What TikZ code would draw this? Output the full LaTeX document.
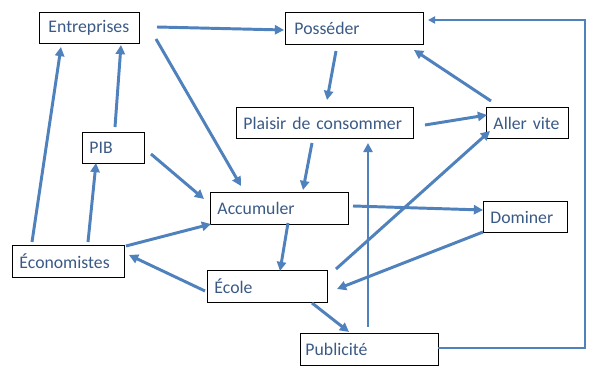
\documentclass[tikz,border=0pt]{standalone}
\usepackage{fontspec}
\setmainfont{Carlito}
\usetikzlibrary{arrows.meta}
\definecolor{arrblue}{HTML}{4F81BD}
\definecolor{txtblue}{HTML}{3A5A86}
\tikzset{
  box/.style={draw=black, line width=0.7pt, anchor=north west, inner xsep=0pt, inner ysep=0pt,
    text=txtblue, font=\fontsize{12.6}{14}\selectfont, align=left},
  arr/.style={draw=arrblue, line width=2.1pt, -{Triangle[length=6.5pt,width=6.5pt]}},
  thinarr/.style={draw=arrblue, line width=1.6pt, -{Triangle[length=5pt,width=5pt]}}
}
\begin{document}
\begin{tikzpicture}[x=0.025cm,y=-0.025cm]
\useasboundingbox[fill=white] (0,0) rectangle (600,372);
\node[box, minimum width=2.5cm, minimum height=0.775cm, text width=2.5cm] (ent) at (39,12) {\hspace*{0.225cm}Entreprises};
\node[box, minimum width=3.45cm, minimum height=0.8cm, text width=3.45cm] (pos) at (285,12) {\hspace*{0.225cm}Posséder};
\node[box, minimum width=4.425cm, minimum height=0.775cm, text width=4.425cm] (pla) at (236,107) {\hspace*{0.175cm}Plaisir de consommer};
\node[box, minimum width=2.05cm, minimum height=0.775cm, text width=2.05cm] (all) at (486,107) {\hspace*{0.175cm}Aller vite};
\node[box, minimum width=1.55cm, minimum height=0.775cm, text width=1.55cm] (pib) at (82,132) {\hspace*{0.175cm}PIB};
\node[box, minimum width=3.45cm, minimum height=0.8cm, text width=3.45cm] (acc) at (210,192) {\hspace*{0.175cm}Accumuler};
\node[box, minimum width=2.1cm, minimum height=0.775cm, text width=2.1cm] (dom) at (483,201) {\hspace*{0.175cm}Dominer};
\node[box, minimum width=2.8cm, minimum height=0.8cm, text width=2.8cm] (eco) at (12,245) {\hspace*{0.175cm}Économistes};
\node[box, minimum width=3.0cm, minimum height=0.8cm, text width=3.0cm] (ecl) at (207,270) {\hspace*{0.175cm}École};
\node[box, minimum width=3.45cm, minimum height=0.8cm, text width=3.45cm] (pub) at (300,333) {\hspace*{0.125cm}Publicité};
% arrows
\draw[arr] ([shift={(118,15)}]ent.north west) -- ([shift={(-1,18)}]pos.north west);
\draw[arr] ([shift={(117,27)}]ent.north west) -- ([shift={(31,-6)}]acc.north west);
\draw[arr] ([shift={(33,-5)}]pib.north west) -- ([shift={(82,33)}]ent.north west);
\draw[arr] ([shift={(20,-3)}]eco.north west) -- ([shift={(22,35)}]ent.north west);
\draw[arr] ([shift={(76,-3)}]eco.north west) -- ([shift={(14,31)}]pib.north west);
\draw[arr] ([shift={(69,22)}]pib.north west) -- ([shift={(-6,7)}]acc.north west);
\draw[arr] ([shift={(114,1)}]eco.north west) -- ([shift={(1,32)}]acc.north west);
\draw[arr] ([shift={(-2,21)}]ecl.north west) -- ([shift={(117,10)}]eco.north west);
\draw[arr] ([shift={(78,31)}]acc.north west) -- ([shift={(73,1)}]ecl.north west);
\draw[arr] ([shift={(51,39)}]pos.north west) -- ([shift={(91,-7)}]pla.north west);
\draw[arr] ([shift={(5,-6)}]all.north west) -- ([shift={(129,38)}]pos.north west);
\draw[arr] ([shift={(189,18)}]pla.north west) -- ([shift={(1,8)}]all.north west);
\draw[arr] ([shift={(76,36)}]pla.north west) -- ([shift={(93,-2)}]acc.north west);
\draw[arr] ([shift={(68,-6)}]pub.north west) -- ([shift={(132,36)}]pla.north west);
\draw[arr] ([shift={(129,-1)}]ecl.north west) -- ([shift={(4,24)}]all.north west);
\draw[arr] ([shift={(143,14)}]acc.north west) -- ([shift={(0,9)}]dom.north west);
\draw[arr] ([shift={(0,31)}]dom.north west) -- ([shift={(130,19)}]ecl.north west);
\draw[arr] ([shift={(105,33)}]ecl.north west) -- ([shift={(49,-1)}]pub.north west);
\coordinate (p1) at ([shift={(138,15)}]pub.north west);
\coordinate (p2) at ([shift={(143,8)}]pos.north west);
\coordinate (rc) at (585,0);
\draw[thinarr] (p1) -- (p1 -| rc) -- (p2 -| rc) -- (p2);
\end{tikzpicture}
\end{document}
